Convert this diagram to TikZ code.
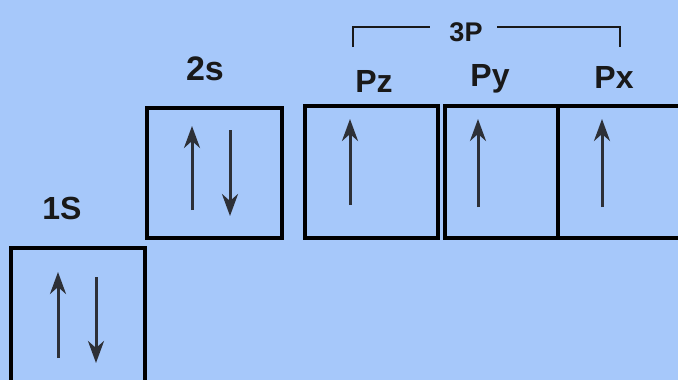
\documentclass[tikz,border=0pt]{standalone}
\usepackage{fontspec}
\setmainfont{Liberation Sans}
\usetikzlibrary{arrows.meta}
\definecolor{bgblue}{RGB}{166,200,250}
\definecolor{ink}{RGB}{25,25,25}
\definecolor{spin}{RGB}{45,48,55}
\tikzset{
  orb/.style={draw=black, line width=3.3pt, inner sep=0pt},
  lbl/.style={font=\bfseries\fontsize{32}{32}\selectfont, text=ink, inner sep=0pt, anchor=center},
  electron/.style={draw=spin, line width=3pt, -{Stealth[length=22pt,width=16pt,inset=7pt]}},
  brack/.style={draw=ink, line width=2.3pt}
}
\begin{document}
\begin{tikzpicture}[x=1pt,y=-1pt]
\useasboundingbox (0,0) rectangle (678,380);
\clip (0,0) rectangle (678,380);
\fill[bgblue] (0,0) rectangle (678,380);
% boxes
\node[orb, minimum width=134pt, minimum height=150pt] (s1) at (78,323) {};
\node[orb, minimum width=135pt, minimum height=130pt] (s2) at (214.5,173) {};
\node[orb, minimum width=133pt, minimum height=132pt] (pz) at (371.5,172) {};
\node[orb, minimum width=113pt, minimum height=132pt] (py) at (501.5,172) {};
\node[orb, minimum width=140pt, minimum height=132pt] (px) at (628,172) {};
% labels
\node[lbl] (l1) at (62,208) {1S};
\node[lbl, font=\bfseries\fontsize{34}{34}\selectfont] (l2) at (205,69) {2s};
\node[lbl] (lz) at (374,81) {Pz};
\node[lbl] (ly) at (490,79) {Py};
\node[lbl] (lx) at (614,77) {Px};
\node[lbl, font=\bfseries\fontsize{27}{27}\selectfont] (l3) at (466,32) {3P};
% bracket
\coordinate (bl) at (353,47);
\coordinate (br) at (620,47);
\draw[brack] (bl) -- (353,27) -- (430,27);
\draw[brack] (497,27) -- (620,27) -- (br);
% electrons
\draw[electron] (58,358) -- (58,272);
\draw[electron] (96,277) -- (96,363);
\draw[electron] (192,210) -- (192,126);
\draw[electron] (230,130) -- (230,216);
\draw[electron] (350,205) -- (350,119);
\draw[electron] (478,207) -- (478,119);
\draw[electron] (602,207) -- (602,119);
\end{tikzpicture}
\end{document}
